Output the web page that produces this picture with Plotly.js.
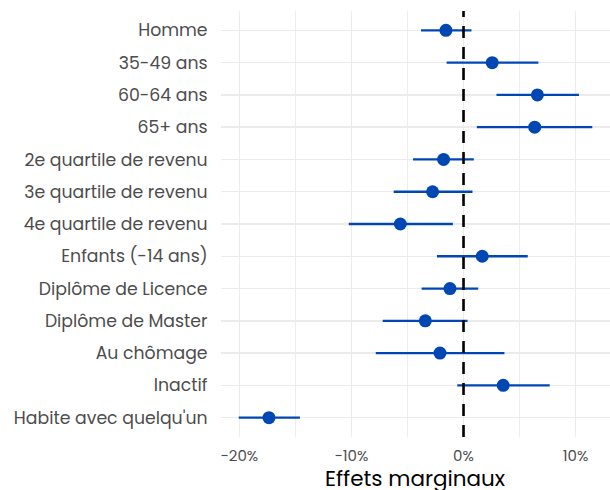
<!DOCTYPE html>
<html>
<head>
<meta charset="utf-8">
<script src="https://cdn.plot.ly/plotly-3.0.1.min.js"></script>
<style>html,body{margin:0;padding:0;background:#fff;}#chart{width:610px;height:490px;}</style>
</head>
<body>
<div id="chart"></div>
<script>
const categories = ["Homme","35-49 ans","60-64 ans","65+ ans","2e quartile de revenu","3e quartile de revenu","4e quartile de revenu","Enfants (-14 ans)","Diplôme de Licence","Diplôme de Master","Au chômage","Inactif","Habite avec quelqu'un"];
const estimate = [-1.57, 2.56, 6.59, 6.35, -1.78, -2.76, -5.64, 1.67, -1.21, -3.41, -2.10, 3.54, -17.36];
const ciLow    = [-3.79, -1.51, 2.94, 1.19, -4.51, -6.23, -10.24, -2.37, -3.74, -7.21, -7.83, -0.56, -20.06];
const ciHigh   = [0.71, 6.68, 10.30, 11.49, 0.92, 0.80, -0.95, 5.73, 1.31, 0.36, 3.65, 7.69, -14.60];
const xTicks = [-20, -10, 0, 10];
const xTickLabels = ["−20%", "−10%", "0%", "10%"];
const xTitle = "Effets marginaux";

const FONT = "Poppins, 'Open Sans', Lato, sans-serif";
const blue = "#0047B3";

const trace = {
  type: "scatter", mode: "markers",
  x: estimate, y: categories,
  marker: {color: blue, size: 13},
  error_x: {type: "data", symmetric: false,
    array: estimate.map((v,i)=>ciHigh[i]-v),
    arrayminus: estimate.map((v,i)=>v-ciLow[i]),
    color: blue, thickness: 2.3, width: 0},
  hoverinfo: "skip", showlegend: false
};

const layout = {
  width: 610, height: 490,
  margin: {l: 221, r: 0, t: 11, b: 53},
  paper_bgcolor: "#fff", plot_bgcolor: "#fff",
  font: {family: FONT, color: "#4d4d4d", size: 15},
  xaxis: {
    range: [-21.64, 13.07], tickvals: xTicks, ticktext: xTickLabels,
    showgrid: true, gridcolor: "#ebebeb", gridwidth: 1.4,
    minor: {dtick: 5, tick0: -20, showgrid: true, gridcolor: "#ededed", gridwidth: 1.2},
    zeroline: false, showline: false,
    ticks: "outside", ticklen: 5, tickcolor: "rgba(0,0,0,0)",
    tickfont: {family: FONT, size: 15, color: "#4d4d4d"}
  },
  yaxis: {
    type: "category", categoryorder: "array", categoryarray: categories,
    range: [12.6, -0.6],
    showgrid: true, gridcolor: "#ebebeb", gridwidth: 1.4,
    zeroline: false, showline: false,
    ticks: "outside", ticklen: 9, tickcolor: "rgba(0,0,0,0)",
    tickfont: {family: FONT, size: 17.3, color: "#4d4d4d"}
  },
  annotations: [{text: xTitle, xref: "paper", yref: "paper", x: 0.5, y: 0,
    xanchor: "center", yanchor: "top", yshift: -24, showarrow: false,
    font: {family: FONT, size: 21.5, color: "#000"}}],
  shapes: [{type: "line", xref: "x", yref: "paper", x0: 0, x1: 0, y0: 0, y1: 1,
    line: {color: "#000", width: 2.6, dash: "12px,9px"}, layer: "above"}]
};

Plotly.newPlot("chart", [trace], layout, {displayModeBar: false, staticPlot: true});
</script>
</body>
</html>
